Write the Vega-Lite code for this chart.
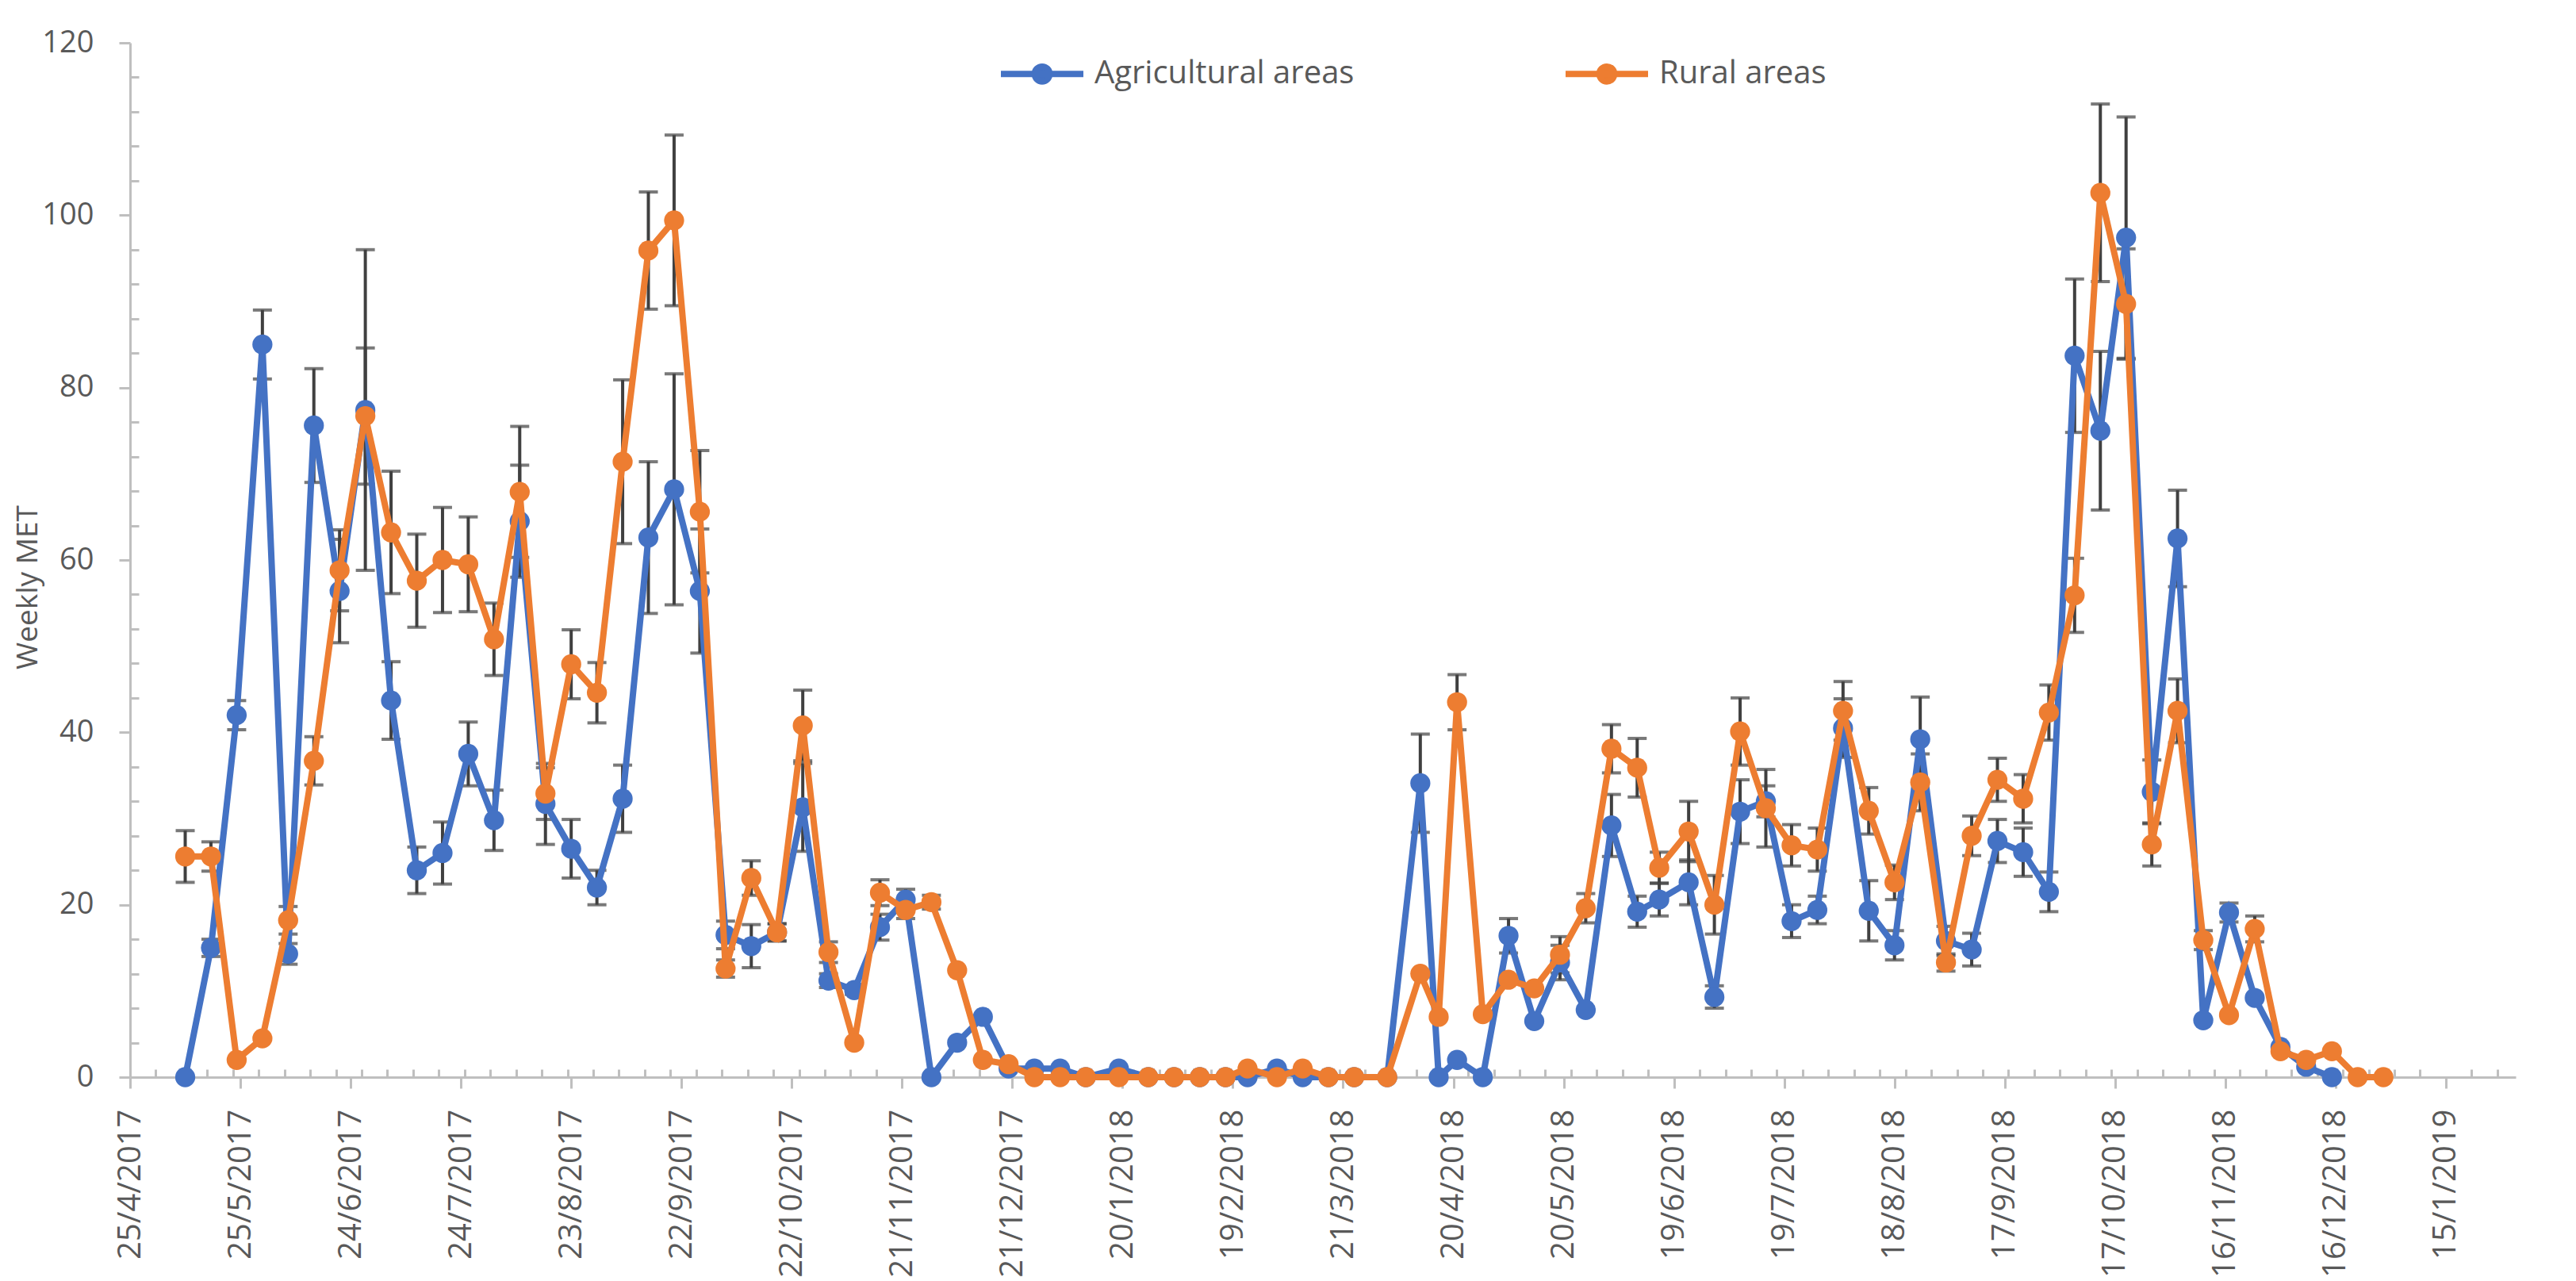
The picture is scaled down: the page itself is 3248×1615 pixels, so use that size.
{
  "$schema": "https://vega.github.io/schema/vega-lite/v6.json",
  "width": 3008,
  "height": 1304,
  "autosize": {"type": "none"},
  "padding": {"left": 164, "top": 54, "right": 76, "bottom": 257},
  "background": "white",
  "config": {
    "view": {"stroke": null},
    "font": "Open Sans",
    "axis": {
      "grid": false,
      "domainColor": "#BFBFBF",
      "domainWidth": 3,
      "tickColor": "#BFBFBF",
      "tickWidth": 3,
      "labelColor": "#595959",
      "labelFont": "Open Sans",
      "labelLimit": 0,
      "titleFont": "Open Sans",
      "titleColor": "#595959",
      "titleFontWeight": "normal",
      "titleFontSize": 37,
      "titleLimit": 0
    },
    "legend": {
      "labelFont": "Open Sans",
      "labelColor": "#595959",
      "labelLimit": 0
    }
  },
  "data": {
    "values": [
      {"date": "2017-05-10", "area": "Agricultural areas", "met": 0, "err": 0},
      {"date": "2017-05-17", "area": "Agricultural areas", "met": 15.0, "err": 1.0},
      {"date": "2017-05-24", "area": "Agricultural areas", "met": 42.0, "err": 1.7},
      {"date": "2017-05-31", "area": "Agricultural areas", "met": 85.0, "err": 4.0},
      {"date": "2017-06-07", "area": "Agricultural areas", "met": 14.3, "err": 1.2},
      {"date": "2017-06-14", "area": "Agricultural areas", "met": 75.6, "err": 6.6},
      {"date": "2017-06-21", "area": "Agricultural areas", "met": 56.4, "err": 6.0},
      {"date": "2017-06-28", "area": "Agricultural areas", "met": 77.4, "err": 18.6},
      {"date": "2017-07-05", "area": "Agricultural areas", "met": 43.7, "err": 4.5},
      {"date": "2017-07-12", "area": "Agricultural areas", "met": 24.0, "err": 2.7},
      {"date": "2017-07-19", "area": "Agricultural areas", "met": 26.0, "err": 3.6},
      {"date": "2017-07-26", "area": "Agricultural areas", "met": 37.5, "err": 3.7},
      {"date": "2017-08-02", "area": "Agricultural areas", "met": 29.8, "err": 3.5},
      {"date": "2017-08-09", "area": "Agricultural areas", "met": 64.5, "err": 6.5},
      {"date": "2017-08-16", "area": "Agricultural areas", "met": 31.7, "err": 4.7},
      {"date": "2017-08-23", "area": "Agricultural areas", "met": 26.5, "err": 3.4},
      {"date": "2017-08-30", "area": "Agricultural areas", "met": 22.0, "err": 2.0},
      {"date": "2017-09-06", "area": "Agricultural areas", "met": 32.3, "err": 3.9},
      {"date": "2017-09-13", "area": "Agricultural areas", "met": 62.6, "err": 8.8},
      {"date": "2017-09-20", "area": "Agricultural areas", "met": 68.2, "err": 13.4},
      {"date": "2017-09-27", "area": "Agricultural areas", "met": 56.4, "err": 7.2},
      {"date": "2017-10-04", "area": "Agricultural areas", "met": 16.5, "err": 1.6},
      {"date": "2017-10-11", "area": "Agricultural areas", "met": 15.2, "err": 2.5},
      {"date": "2017-10-18", "area": "Agricultural areas", "met": 16.8, "err": 1.0},
      {"date": "2017-10-25", "area": "Agricultural areas", "met": 31.3, "err": 5.1},
      {"date": "2017-11-01", "area": "Agricultural areas", "met": 11.2, "err": 0.8},
      {"date": "2017-11-08", "area": "Agricultural areas", "met": 10.1, "err": 0.5},
      {"date": "2017-11-15", "area": "Agricultural areas", "met": 17.4, "err": 1.5},
      {"date": "2017-11-22", "area": "Agricultural areas", "met": 20.6, "err": 1.2},
      {"date": "2017-11-29", "area": "Agricultural areas", "met": 0, "err": 0},
      {"date": "2017-12-06", "area": "Agricultural areas", "met": 4.0, "err": 0},
      {"date": "2017-12-13", "area": "Agricultural areas", "met": 7.0, "err": 0},
      {"date": "2017-12-20", "area": "Agricultural areas", "met": 1.0, "err": 0},
      {"date": "2017-12-27", "area": "Agricultural areas", "met": 1.0, "err": 0},
      {"date": "2018-01-03", "area": "Agricultural areas", "met": 1.0, "err": 0},
      {"date": "2018-01-10", "area": "Agricultural areas", "met": 0, "err": 0},
      {"date": "2018-01-19", "area": "Agricultural areas", "met": 1.0, "err": 0},
      {"date": "2018-01-27", "area": "Agricultural areas", "met": 0, "err": 0},
      {"date": "2018-02-03", "area": "Agricultural areas", "met": 0, "err": 0},
      {"date": "2018-02-10", "area": "Agricultural areas", "met": 0, "err": 0},
      {"date": "2018-02-17", "area": "Agricultural areas", "met": 0, "err": 0},
      {"date": "2018-02-23", "area": "Agricultural areas", "met": 0, "err": 0},
      {"date": "2018-03-03", "area": "Agricultural areas", "met": 1.0, "err": 0},
      {"date": "2018-03-10", "area": "Agricultural areas", "met": 0, "err": 0},
      {"date": "2018-03-17", "area": "Agricultural areas", "met": 0, "err": 0},
      {"date": "2018-03-24", "area": "Agricultural areas", "met": 0, "err": 0},
      {"date": "2018-04-02", "area": "Agricultural areas", "met": 0, "err": 0},
      {"date": "2018-04-11", "area": "Agricultural areas", "met": 34.1, "err": 5.7},
      {"date": "2018-04-16", "area": "Agricultural areas", "met": 0, "err": 0},
      {"date": "2018-04-21", "area": "Agricultural areas", "met": 2.0, "err": 0},
      {"date": "2018-04-28", "area": "Agricultural areas", "met": 0, "err": 0},
      {"date": "2018-05-05", "area": "Agricultural areas", "met": 16.4, "err": 2.0},
      {"date": "2018-05-12", "area": "Agricultural areas", "met": 6.5, "err": 0},
      {"date": "2018-05-19", "area": "Agricultural areas", "met": 13.3, "err": 2.0},
      {"date": "2018-05-26", "area": "Agricultural areas", "met": 7.8, "err": 0},
      {"date": "2018-06-02", "area": "Agricultural areas", "met": 29.2, "err": 3.6},
      {"date": "2018-06-09", "area": "Agricultural areas", "met": 19.2, "err": 1.8},
      {"date": "2018-06-15", "area": "Agricultural areas", "met": 20.6, "err": 1.9},
      {"date": "2018-06-23", "area": "Agricultural areas", "met": 22.6, "err": 2.6},
      {"date": "2018-06-30", "area": "Agricultural areas", "met": 9.3, "err": 1.3},
      {"date": "2018-07-07", "area": "Agricultural areas", "met": 30.8, "err": 3.7},
      {"date": "2018-07-14", "area": "Agricultural areas", "met": 32.0, "err": 1.8},
      {"date": "2018-07-21", "area": "Agricultural areas", "met": 18.1, "err": 1.9},
      {"date": "2018-07-28", "area": "Agricultural areas", "met": 19.4, "err": 1.6},
      {"date": "2018-08-04", "area": "Agricultural areas", "met": 40.5, "err": 3.4},
      {"date": "2018-08-11", "area": "Agricultural areas", "met": 19.3, "err": 3.5},
      {"date": "2018-08-18", "area": "Agricultural areas", "met": 15.3, "err": 1.7},
      {"date": "2018-08-25", "area": "Agricultural areas", "met": 39.2, "err": 4.9},
      {"date": "2018-09-01", "area": "Agricultural areas", "met": 15.8, "err": 1.7},
      {"date": "2018-09-08", "area": "Agricultural areas", "met": 14.8, "err": 1.9},
      {"date": "2018-09-15", "area": "Agricultural areas", "met": 27.4, "err": 2.5},
      {"date": "2018-09-22", "area": "Agricultural areas", "met": 26.1, "err": 2.8},
      {"date": "2018-09-29", "area": "Agricultural areas", "met": 21.5, "err": 2.3},
      {"date": "2018-10-06", "area": "Agricultural areas", "met": 83.7, "err": 8.9},
      {"date": "2018-10-13", "area": "Agricultural areas", "met": 75.0, "err": 9.2},
      {"date": "2018-10-20", "area": "Agricultural areas", "met": 97.4, "err": 14.0},
      {"date": "2018-10-27", "area": "Agricultural areas", "met": 33.1, "err": 3.7},
      {"date": "2018-11-03", "area": "Agricultural areas", "met": 62.5, "err": 5.6},
      {"date": "2018-11-10", "area": "Agricultural areas", "met": 6.6, "err": 0},
      {"date": "2018-11-17", "area": "Agricultural areas", "met": 19.1, "err": 1.1},
      {"date": "2018-11-24", "area": "Agricultural areas", "met": 9.2, "err": 0},
      {"date": "2018-12-01", "area": "Agricultural areas", "met": 3.5, "err": 0},
      {"date": "2018-12-08", "area": "Agricultural areas", "met": 1.2, "err": 0},
      {"date": "2018-12-15", "area": "Agricultural areas", "met": 0, "err": 0},
      {"date": "2017-05-10", "area": "Rural areas", "met": 25.6, "err": 3.0},
      {"date": "2017-05-17", "area": "Rural areas", "met": 25.6, "err": 1.7},
      {"date": "2017-05-24", "area": "Rural areas", "met": 2.0, "err": 0},
      {"date": "2017-05-31", "area": "Rural areas", "met": 4.5, "err": 0},
      {"date": "2017-06-07", "area": "Rural areas", "met": 18.2, "err": 1.6},
      {"date": "2017-06-14", "area": "Rural areas", "met": 36.7, "err": 2.8},
      {"date": "2017-06-21", "area": "Rural areas", "met": 58.8, "err": 4.7},
      {"date": "2017-06-28", "area": "Rural areas", "met": 76.7, "err": 7.9},
      {"date": "2017-07-05", "area": "Rural areas", "met": 63.2, "err": 7.1},
      {"date": "2017-07-12", "area": "Rural areas", "met": 57.6, "err": 5.4},
      {"date": "2017-07-19", "area": "Rural areas", "met": 60.0, "err": 6.1},
      {"date": "2017-07-26", "area": "Rural areas", "met": 59.5, "err": 5.5},
      {"date": "2017-08-02", "area": "Rural areas", "met": 50.8, "err": 4.2},
      {"date": "2017-08-09", "area": "Rural areas", "met": 67.9, "err": 7.6},
      {"date": "2017-08-16", "area": "Rural areas", "met": 32.9, "err": 3.0},
      {"date": "2017-08-23", "area": "Rural areas", "met": 47.9, "err": 4.0},
      {"date": "2017-08-30", "area": "Rural areas", "met": 44.6, "err": 3.5},
      {"date": "2017-09-06", "area": "Rural areas", "met": 71.4, "err": 9.5},
      {"date": "2017-09-13", "area": "Rural areas", "met": 95.9, "err": 6.8},
      {"date": "2017-09-20", "area": "Rural areas", "met": 99.4, "err": 9.9},
      {"date": "2017-09-27", "area": "Rural areas", "met": 65.6, "err": 7.1},
      {"date": "2017-10-04", "area": "Rural areas", "met": 12.6, "err": 1.0},
      {"date": "2017-10-11", "area": "Rural areas", "met": 23.1, "err": 2.0},
      {"date": "2017-10-18", "area": "Rural areas", "met": 16.8, "err": 1.0},
      {"date": "2017-10-25", "area": "Rural areas", "met": 40.8, "err": 4.1},
      {"date": "2017-11-01", "area": "Rural areas", "met": 14.5, "err": 1.2},
      {"date": "2017-11-08", "area": "Rural areas", "met": 4.0, "err": 0},
      {"date": "2017-11-15", "area": "Rural areas", "met": 21.4, "err": 1.5},
      {"date": "2017-11-22", "area": "Rural areas", "met": 19.4, "err": 1.0},
      {"date": "2017-11-29", "area": "Rural areas", "met": 20.3, "err": 0.8},
      {"date": "2017-12-06", "area": "Rural areas", "met": 12.4, "err": 0},
      {"date": "2017-12-13", "area": "Rural areas", "met": 2.0, "err": 0},
      {"date": "2017-12-20", "area": "Rural areas", "met": 1.5, "err": 0},
      {"date": "2017-12-27", "area": "Rural areas", "met": 0, "err": 0},
      {"date": "2018-01-03", "area": "Rural areas", "met": 0, "err": 0},
      {"date": "2018-01-10", "area": "Rural areas", "met": 0, "err": 0},
      {"date": "2018-01-19", "area": "Rural areas", "met": 0, "err": 0},
      {"date": "2018-01-27", "area": "Rural areas", "met": 0, "err": 0},
      {"date": "2018-02-03", "area": "Rural areas", "met": 0, "err": 0},
      {"date": "2018-02-10", "area": "Rural areas", "met": 0, "err": 0},
      {"date": "2018-02-17", "area": "Rural areas", "met": 0, "err": 0},
      {"date": "2018-02-23", "area": "Rural areas", "met": 1.0, "err": 0},
      {"date": "2018-03-03", "area": "Rural areas", "met": 0, "err": 0},
      {"date": "2018-03-10", "area": "Rural areas", "met": 1.0, "err": 0},
      {"date": "2018-03-17", "area": "Rural areas", "met": 0, "err": 0},
      {"date": "2018-03-24", "area": "Rural areas", "met": 0, "err": 0},
      {"date": "2018-04-02", "area": "Rural areas", "met": 0, "err": 0},
      {"date": "2018-04-11", "area": "Rural areas", "met": 12.0, "err": 0},
      {"date": "2018-04-16", "area": "Rural areas", "met": 7.0, "err": 0},
      {"date": "2018-04-21", "area": "Rural areas", "met": 43.5, "err": 3.2},
      {"date": "2018-04-28", "area": "Rural areas", "met": 7.3, "err": 0},
      {"date": "2018-05-05", "area": "Rural areas", "met": 11.3, "err": 0},
      {"date": "2018-05-12", "area": "Rural areas", "met": 10.3, "err": 0},
      {"date": "2018-05-19", "area": "Rural areas", "met": 14.2, "err": 2.1},
      {"date": "2018-05-26", "area": "Rural areas", "met": 19.6, "err": 1.7},
      {"date": "2018-06-02", "area": "Rural areas", "met": 38.1, "err": 2.8},
      {"date": "2018-06-09", "area": "Rural areas", "met": 35.9, "err": 3.4},
      {"date": "2018-06-15", "area": "Rural areas", "met": 24.3, "err": 1.8},
      {"date": "2018-06-23", "area": "Rural areas", "met": 28.5, "err": 3.5},
      {"date": "2018-06-30", "area": "Rural areas", "met": 20.0, "err": 3.4},
      {"date": "2018-07-07", "area": "Rural areas", "met": 40.1, "err": 3.9},
      {"date": "2018-07-14", "area": "Rural areas", "met": 31.2, "err": 4.5},
      {"date": "2018-07-21", "area": "Rural areas", "met": 26.9, "err": 2.4},
      {"date": "2018-07-28", "area": "Rural areas", "met": 26.4, "err": 2.5},
      {"date": "2018-08-04", "area": "Rural areas", "met": 42.5, "err": 3.4},
      {"date": "2018-08-11", "area": "Rural areas", "met": 30.9, "err": 2.7},
      {"date": "2018-08-18", "area": "Rural areas", "met": 22.6, "err": 2.0},
      {"date": "2018-08-25", "area": "Rural areas", "met": 34.2, "err": 3.3},
      {"date": "2018-09-01", "area": "Rural areas", "met": 13.3, "err": 1.0},
      {"date": "2018-09-08", "area": "Rural areas", "met": 28.0, "err": 2.3},
      {"date": "2018-09-15", "area": "Rural areas", "met": 34.5, "err": 2.5},
      {"date": "2018-09-22", "area": "Rural areas", "met": 32.3, "err": 2.8},
      {"date": "2018-09-29", "area": "Rural areas", "met": 42.3, "err": 3.2},
      {"date": "2018-10-06", "area": "Rural areas", "met": 55.9, "err": 4.3},
      {"date": "2018-10-13", "area": "Rural areas", "met": 102.6, "err": 10.3},
      {"date": "2018-10-20", "area": "Rural areas", "met": 89.7, "err": 6.4},
      {"date": "2018-10-27", "area": "Rural areas", "met": 27.0, "err": 2.5},
      {"date": "2018-11-03", "area": "Rural areas", "met": 42.5, "err": 3.7},
      {"date": "2018-11-10", "area": "Rural areas", "met": 15.9, "err": 1.1},
      {"date": "2018-11-17", "area": "Rural areas", "met": 7.2, "err": 0},
      {"date": "2018-11-24", "area": "Rural areas", "met": 17.2, "err": 1.5},
      {"date": "2018-12-01", "area": "Rural areas", "met": 3.0, "err": 0},
      {"date": "2018-12-08", "area": "Rural areas", "met": 2.0, "err": 0},
      {"date": "2018-12-15", "area": "Rural areas", "met": 3.0, "err": 0},
      {"date": "2018-12-22", "area": "Rural areas", "met": 0, "err": 0},
      {"date": "2018-12-29", "area": "Rural areas", "met": 0, "err": 0}
    ]
  },
  "encoding": {
    "x": {
      "field": "date",
      "type": "temporal",
      "scale": {
        "type": "utc",
        "domain": [
          {"year": 2017, "month": 4, "date": 25, "utc": true},
          {"year": 2019, "month": 2, "date": 3, "utc": true}
        ]
      },
      "axis": {
        "title": null,
        "format": "%-d/%-m/%Y",
        "tickCount": {"interval": "day", "step": 1},
        "labelExpr": "((datum.value - 1493078400000) % 2592000000) == 0 ? datum.label : ''",
        "labelAngle": -90,
        "labelAlign": "right",
        "labelBaseline": "middle",
        "labelOverlap": false,
        "labelFlush": false,
        "labelBound": false,
        "labelLimit": 0,
        "labelFontSize": 40,
        "labelPadding": 26,
        "tickSize": {"condition": {"test": "((datum.value - 1493078400000) % 2592000000) == 0", "value": 14}, "value": -10},
        "tickOpacity": {"condition": {"test": "((datum.value - 1493078400000) % 604800000) == 0 || ((datum.value - 1493078400000) % 2592000000) == 0", "value": 1}, "value": 0}
      }
    },
    "y": {
      "field": "met",
      "type": "quantitative",
      "title": "Weekly MET",
      "scale": {"domain": [0, 120], "nice": false, "zero": true},
      "axis": {
        "values": [0, 4, 8, 12, 16, 20, 24, 28, 32, 36, 40, 44, 48, 52, 56, 60, 64, 68, 72, 76, 80, 84, 88, 92, 96, 100, 104, 108, 112, 116, 120],
        "labelExpr": "datum.value % 20 == 0 ? datum.label : ''",
        "tickSize": {"condition": {"test": "datum.value % 20 == 0", "value": 14}, "value": -11},
        "labelFontSize": 38,
        "labelPadding": 32,
        "titleFontSize": 37,
        "titleAngle": -90,
        "titleAlign": "center",
        "titleBaseline": "middle",
        "titleX": -129,
        "titleY": 686
      }
    },
    "color": {
      "field": "area",
      "type": "nominal",
      "scale": {"domain": ["Agricultural areas", "Rural areas"], "range": ["#4472C4", "#ED7D31"]},
      "legend": {
        "title": null,
        "orient": "none",
        "direction": "horizontal",
        "legendX": 1094,
        "legendY": -17,
        "padding": 0,
        "symbolType": "M-1,0H1M-0.18,0A0.18,0.18,0,1,1,0.18,0A0.18,0.18,0,1,1,-0.18,0Z",
        "symbolSize": 10816,
        "symbolStrokeWidth": 8,
        "symbolOpacity": 1,
        "labelFontSize": 40,
        "labelLimit": 0,
        "labelOffset": 10,
        "columnPadding": 250,
        "encode": {
          "symbols": {
            "update": {
              "fill": {"scale": "color", "field": "value"},
              "stroke": {"scale": "color", "field": "value"}
            }
          }
        }
      }
    }
  },
  "layer": [
    {
      "transform": [{"filter": "datum.err > 0"}],
      "mark": {
        "type": "errorbar",
        "ticks": {"size": 24, "thickness": 4},
        "thickness": 4
      },
      "encoding": {
        "yError": {"field": "err"},
        "color": {"value": "#404040"}
      }
    },
    {
      "transform": [{"filter": "datum.area == 'Agricultural areas'"}],
      "mark": {"type": "line", "strokeWidth": 8, "point": {"filled": true, "size": 640, "opacity": 1}}
    },
    {
      "transform": [{"filter": "datum.area == 'Rural areas'"}],
      "mark": {"type": "line", "strokeWidth": 8, "point": {"filled": true, "size": 640, "opacity": 1}}
    }
  ]
}
